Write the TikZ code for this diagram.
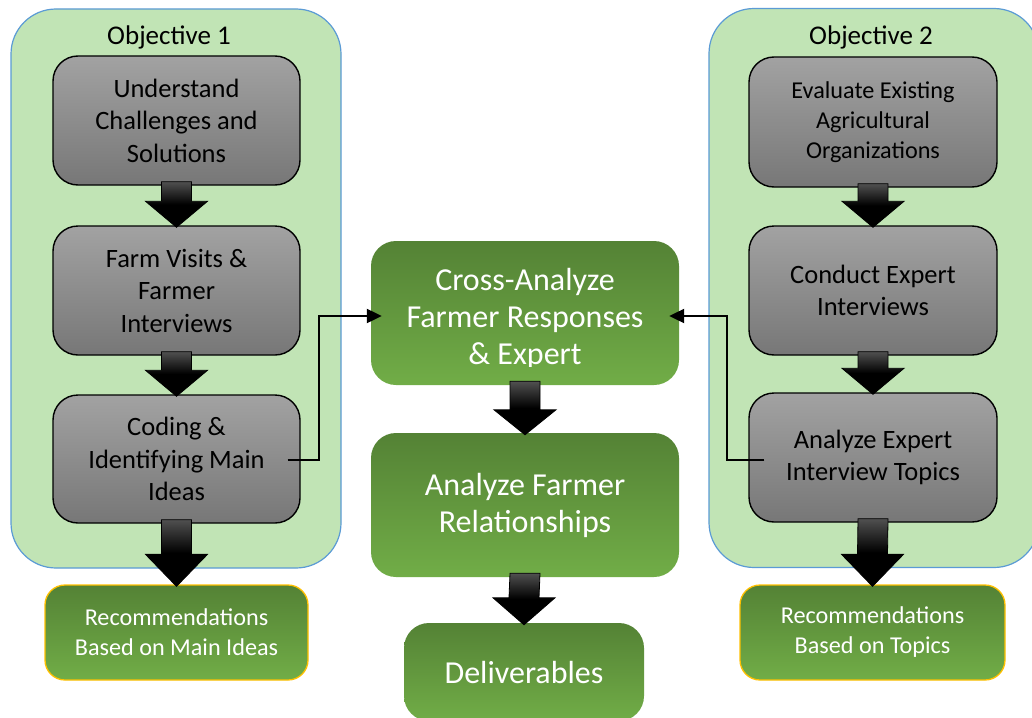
\documentclass[tikz,border=0pt]{standalone}
\usepackage{fontspec}
\setmainfont{Carlito}
\usetikzlibrary{calc,arrows.meta}
\definecolor{contfill}{HTML}{C1E4B5}
\definecolor{contline}{HTML}{5B9BD5}
\definecolor{graytop}{HTML}{A2A2A2}
\definecolor{graybot}{HTML}{777777}
\definecolor{greentop}{HTML}{548235}
\definecolor{greenbot}{HTML}{71AD47}
\definecolor{gold}{HTML}{FFC000}
\definecolor{ashade}{HTML}{505050}
\tikzset{
  container/.style={draw=contline, line width=1.2pt, fill=contfill, rounded corners=45pt,
    minimum width=330pt, minimum height=559pt, inner sep=0pt},
  objlabel/.style={font=\fontsize{27}{32}\selectfont, inner sep=0pt},
  graybox/.style={draw=black, line width=1.4pt, top color=graytop, bottom color=graybot,
    rounded corners=25pt, minimum width=247pt, minimum height=129pt, align=center,
    inner sep=0pt, font=\fontsize{26.5}{32.5}\selectfont},
  smalltext/.style={font=\fontsize{24.2}{30}\selectfont},
  greenbox/.style={top color=greentop, bottom color=greenbot, text=white,
    rounded corners=25pt, minimum width=308pt, minimum height=144pt, align=center,
    inner sep=0pt, font=\fontsize{32}{37}\selectfont},
  recbox/.style={draw=gold, line width=1.3pt, top color=greentop, bottom color=greenbot,
    text=white, rounded corners=20pt, minimum height=95pt, align=center, inner sep=0pt,
    font=\fontsize{24.2}{30}\selectfont},
  blockarrow/.style={draw=black, line width=0.8pt, top color=ashade, bottom color=black,
    middle color=black},
  conn/.style={draw=black, line width=2.2pt, -{Triangle[length=15pt,width=14pt]}},
}
\newcommand\blockar[3]{%
  \path[blockarrow] ($(#1.south)+(-15,-4)$) -- ($(#1.south)+(15,-4)$)
    -- ($(#2.north)+(15,-#3)$) -- ($(#2.north)+(31,-#3)$) -- ($(#2.north)+(0,2)$)
    -- ($(#2.north)+(-31,-#3)$) -- ($(#2.north)+(-15,-#3)$) -- cycle;}
\begin{document}
\begin{tikzpicture}[x=1pt,y=-1pt]
\useasboundingbox (0,0) rectangle (1032,717);
\clip (0,0) rectangle (1032,717);
% containers
\node[container] (obj1) at (176,288.5) {};
\node[container] (obj2) at (874,288) {};
\node[objlabel] (obj1lab) at (169,37) {Objective 1};
\node[objlabel] (obj2lab) at (871,37) {Objective 2};
% left column
\node[graybox] (b1) at (176.5,120.5) {Understand\\Challenges and\\Solutions};
\node[graybox] (b2) at (176.5,290.5) {Farm Visits \&\\Farmer\\Interviews};
\node[graybox, minimum height=128pt] (b3) at (176.5,459) {Coding \&\\Identifying Main\\Ideas};
\node[recbox, minimum width=263pt] (r1) at (176.5,632.5) {Recommendations\\Based on Main Ideas};
% right column
\node[graybox, smalltext, minimum width=248pt, minimum height=130pt] (b4) at (873,122) {Evaluate Existing\\Agricultural\\Organizations};
\node[graybox, minimum width=248pt] (b5) at (873,290.5) {Conduct Expert\\Interviews};
\node[graybox, minimum width=248pt] (b6) at (873,457.5) {Analyze Expert\\Interview Topics};
\node[recbox, minimum width=265pt] (r2) at (872.5,632.5) {Recommendations\\Based on Topics};
% center column
\node[greenbox] (cross) at (525,313) {};
\begin{scope}
  \clip (371,241) rectangle (679,366);
  \node[text=white, align=center, inner sep=0pt, font=\fontsize{32}{37}\selectfont] (crosstext)
    at ($(cross.center)+(0,6)$) {Cross-Analyze\\Farmer Responses\\\& Expert};
\end{scope}
\node[greenbox] (farm) at (525,505) {Analyze Farmer\\Relationships};
\node[greenbox, minimum width=240pt, minimum height=98pt] (deliv) at (524,672) {Deliverables};
% block arrows
\blockar{b1}{b2}{24}
\blockar{b2}{b3}{24}
\blockar{b3}{r1}{30}
\blockar{b4}{b5}{24}
\blockar{b5}{b6}{24}
\blockar{b6}{r2}{30}
\blockar{cross}{farm}{23}
\blockar{farm}{deliv}{25}
% connectors
\draw[conn] ($(b3.east)+(-13,1)$) -- ++(31,0) |- ($(cross.west)+(11,3)$);
\draw[conn] ($(b6.west)+(16,2.5)$) -- ++(-37,0) |- ($(cross.east)+(-10,3)$);
\end{tikzpicture}
\end{document}
